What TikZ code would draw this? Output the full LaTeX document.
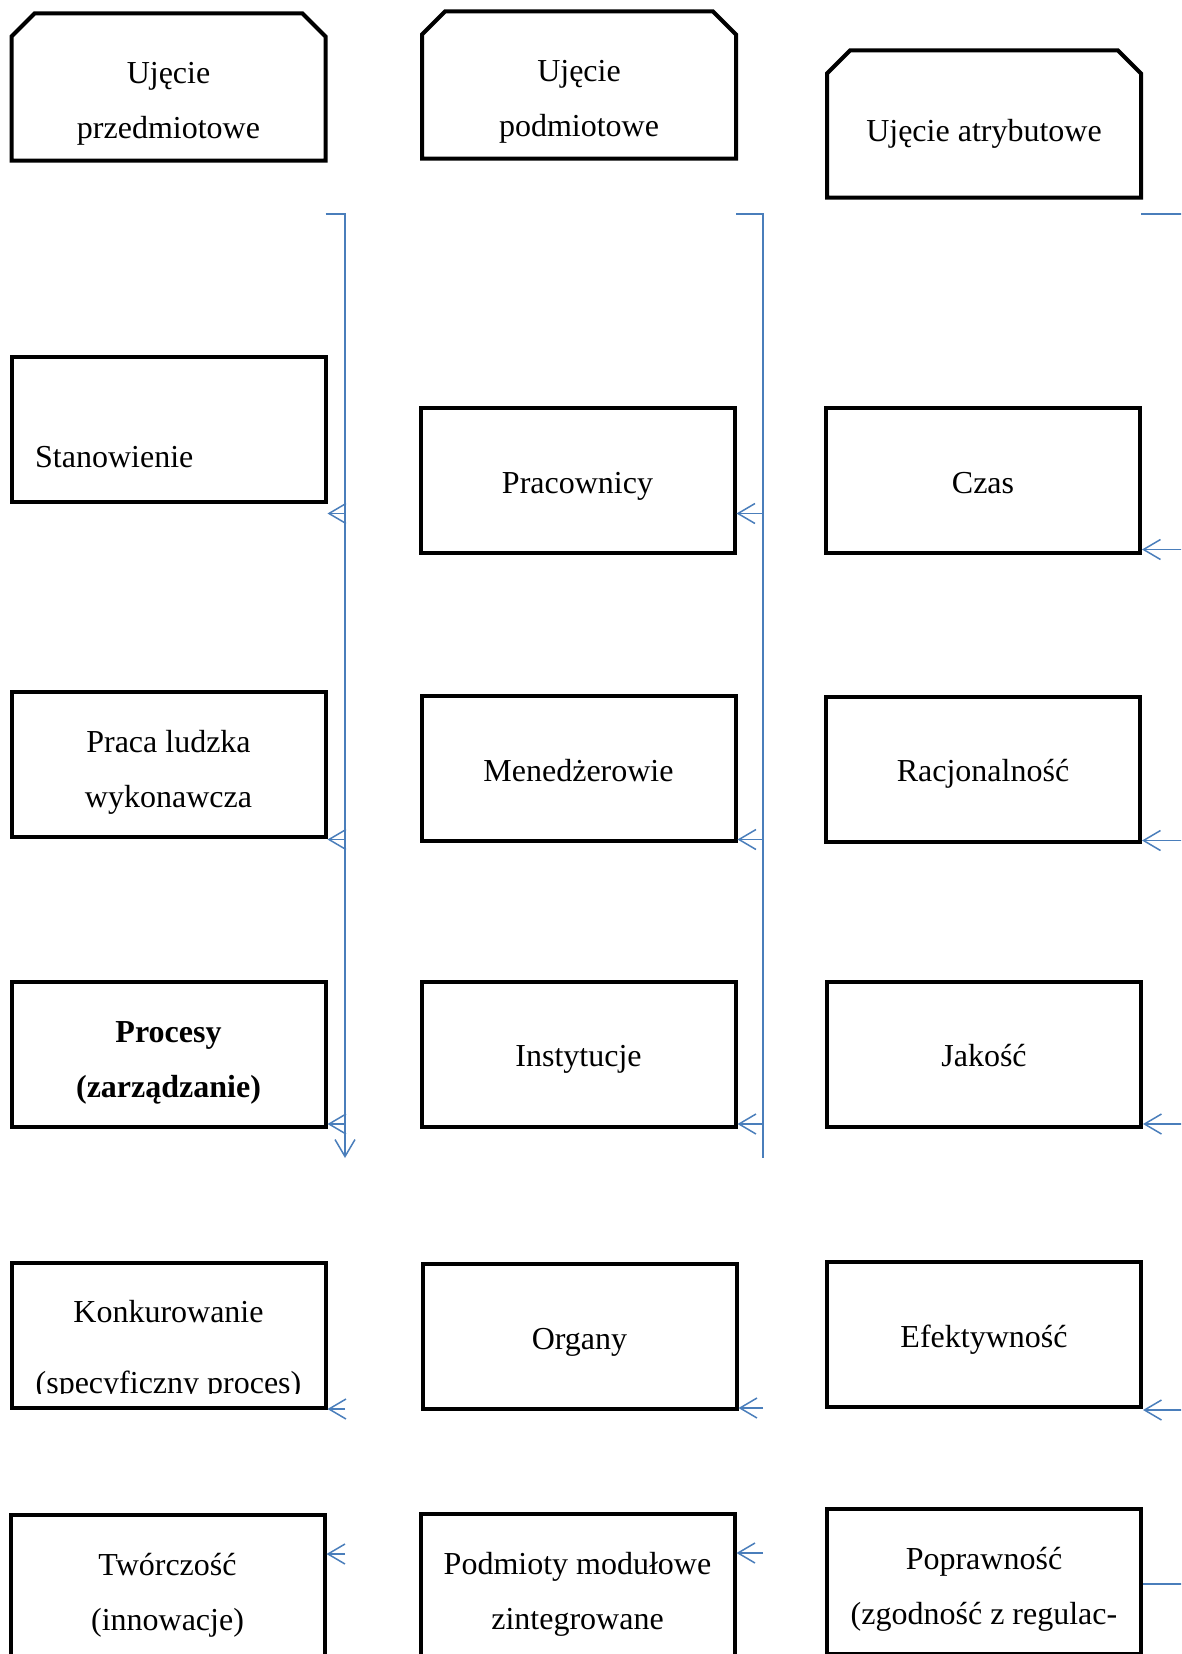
\documentclass[tikz,border=0pt]{standalone}
\usepackage{fontspec}
\setmainfont{Liberation Serif}
\usetikzlibrary{arrows.meta}
\usepackage{xcolor}
\definecolor{linkblue}{RGB}{74,126,187}

\tikzset{
	box/.style={draw, line width=4pt, minimum width=314pt, minimum height=145pt, inner sep=0pt, align=center, font=\fontsize{32}{55}\selectfont,
		execute at begin node={\rule{0pt}{#1}}, execute at end node={\rule[-8pt]{0pt}{8pt}}},
	box/.default=34pt,
	headbox/.style={minimum width=314pt, minimum height=147pt, inner sep=0pt, outer sep=0pt},
	headline/.style={line width=4pt},
	txt/.style={inner sep=0pt, align=center, font=\fontsize{32}{55}\selectfont},
	link/.style={draw=linkblue, line width=1.5pt},
	tip/.style={link, -{Straight Barb[length=17pt,width=20pt]}}
}

\begin{document}
\begin{tikzpicture}[x=1pt, y=-1pt]
	\useasboundingbox (0,0) rectangle (1181,1654);
	\clip (0,0) rectangle (1181,1654);
	% naglowki
	\node (h1) [headbox] at (168.5,87) {};
	\node (h2) [headbox] at (579,85) {};
	\node (h3) [headbox] at (984,124) {};
	\draw[headline] (h1.south west) -- ([yshift=-23pt]h1.north west) -- ([xshift=23pt]h1.north west) -- ([xshift=-23pt]h1.north east) -- ([yshift=-23pt]h1.north east) -- (h1.south east) -- cycle;
	\draw[headline] (h2.south west) -- ([yshift=-23pt]h2.north west) -- ([xshift=23pt]h2.north west) -- ([xshift=-23pt]h2.north east) -- ([yshift=-23pt]h2.north east) -- (h2.south east) -- cycle;
	\draw[headline] (h3.south west) -- ([yshift=-23pt]h3.north west) -- ([xshift=23pt]h3.north west) -- ([xshift=-23pt]h3.north east) -- ([yshift=-23pt]h3.north east) -- (h3.south east) -- cycle;
	\node (h1t) [txt] at ([yshift=-16.5pt]h1.center) {Ujęcie\\przedmiotowe};
	\node (h2t) [txt] at ([yshift=-17pt]h2.center) {Ujęcie\\podmiotowe};
	\node (h3t) [txt] at ([yshift=-9.5pt]h3.center) {Ujęcie atrybutowe};
	% kolumna 1
	\node (r1c1) [box] at (168.5,429) {};
	\node (r1c1t) [txt, anchor=base west] at (35,467) {Stanowienie};
	\node (r2c1) [box=94pt] at (168.5,764) {Praca ludzka\\wykonawcza};
	\node (r3c1) [box=94pt, font=\fontsize{32}{55}\selectfont\bfseries] at (168.5,1054) {Procesy\\(zarządzanie)};
	\node (r4c1) [box] at (168.5,1335.5) {};
	\begin{scope}
		\clip (14,1265) rectangle (322,1393);
		\node (r4c1t) [txt, font=\fontsize{32}{71}\selectfont] at (168.5,1350) {Konkurowanie\\(specyficzny proces)};
	\end{scope}
	\node (r5c1) [box=94pt] at (167.5,1587) {Twórczość\\(innowacje)};
	% kolumna 2
	\node (r1c2) [box] at (577.5,480) {Pracownicy};
	\node (r2c2) [box] at (578.5,768) {Menedżerowie};
	\node (r3c2) [box=32pt] at (578.5,1054) {Instytucje};
	\node (r4c2) [box] at (579.5,1336.5) {Organy};
	\node (r5c2) [box=94pt] at (577.5,1586) {Podmioty modułowe\\zintegrowane};
	% kolumna 3
	\node (r1c3) [box] at (983,480) {Czas};
	\node (r2c3) [box=32pt] at (983,769) {Racjonalność};
	\node (r3c3) [box=32pt] at (984,1054) {Jakość};
	\node (r4c3) [box] at (984,1334.5) {Efektywność};
	\node (r5c3) [box=94pt] at (984,1581) {Poprawność\\(zgodność z regulac-};
	% linie
	\coordinate (b1) at (345,214);
	\coordinate (e1) at (345,1158);
	\coordinate (b2) at (763,214);
	\coordinate (e2) at (763,1158);
	\coordinate (b3) at (1200,214);
	\coordinate (e3) at (1200,1600);
	\draw[tip] (b1 -| h1.east) -- (b1) -- (e1);
	\draw[link] (b2 -| h2.east) -- (b2) -- (e2);
	\draw[link] (b3 -| h3.east) -- (b3) -- (e3);
	\coordinate (a11) at (345,513.5);
	\coordinate (a21) at (345,839.5);
	\coordinate (a31) at (345,1124);
	\coordinate (a41) at (345,1409);
	\coordinate (a51) at (345,1554);
	\coordinate (a12) at (763,513.5);
	\coordinate (a22) at (763,839.5);
	\coordinate (a32) at (763,1124);
	\coordinate (a42) at (763,1408);
	\coordinate (a52) at (763,1553);
	\coordinate (a13) at (1200,549.5);
	\coordinate (a23) at (1200,840.5);
	\coordinate (a33) at (1200,1124);
	\coordinate (a43) at (1200,1410);
	\coordinate (a53) at (1200,1584);
	\draw[tip] (a11) -- (a11 -| r1c1.east);
	\draw[tip] (a21) -- (a21 -| r2c1.east);
	\draw[tip] (a31) -- (a31 -| r3c1.east);
	\draw[tip] (a41) -- (a41 -| r4c1.east);
	\draw[tip] (a51) -- (a51 -| r5c1.east);
	\draw[tip] (a12) -- (a12 -| r1c2.east);
	\draw[tip] (a22) -- (a22 -| r2c2.east);
	\draw[tip] (a32) -- (a32 -| r3c2.east);
	\draw[tip] (a42) -- (a42 -| r4c2.east);
	\draw[tip] (a52) -- (a52 -| r5c2.east);
	\draw[tip] (a13) -- (a13 -| r1c3.east);
	\draw[tip] (a23) -- (a23 -| r2c3.east);
	\draw[tip] (a33) -- (a33 -| r3c3.east);
	\draw[tip] (a43) -- (a43 -| r4c3.east);
	\draw[link] (a53) -- (a53 -| r5c3.east);
\end{tikzpicture}
\end{document}
